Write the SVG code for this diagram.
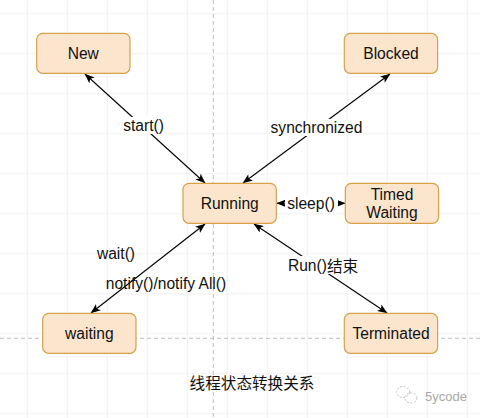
<svg xmlns="http://www.w3.org/2000/svg" width="480" height="418" viewBox="0 0 480 418">
  <defs>
    <pattern id="grid" x="26.7" y="13.3" width="40" height="40" patternUnits="userSpaceOnUse">
      <path d="M0,0 H40 M0,0 V40" fill="none" stroke="#e4e4e4" stroke-width="1"/>
    </pattern>
    <marker id="arr" viewBox="0 0 10 8" refX="9.5" refY="4" markerWidth="10" markerHeight="8" markerUnits="userSpaceOnUse" orient="auto-start-reverse">
      <path d="M0,0 L10,4 L0,8 L2.5,4 Z" fill="#000"/>
    </marker>
  </defs>
  <style>
    .node rect { fill: #fce5cd; stroke: #d6a14a; stroke-width: 1.2; }
    .node text, .lbl { font-family: "Liberation Sans", Arial, sans-serif; font-size: 15.6px; fill: #111; text-anchor: middle; dominant-baseline: central; }
    .edge { stroke: #000; stroke-width: 1.1; fill: none; marker-start: url(#arr); marker-end: url(#arr); }
    .bg { fill: #fff; }
    .guide { stroke: #bdbdbd; stroke-width: 1; stroke-dasharray: 4 3; }
  </style>
  <rect width="480" height="418" fill="#fff"/>
  <rect width="480" height="418" fill="url(#grid)"/>
  <line class="guide" x1="213.3" y1="0" x2="213.3" y2="418"/>
  <line class="guide" x1="0" y1="338.3" x2="480" y2="338.3"/>

  <g id="connectors">
    <line class="edge" x1="85" y1="74" x2="205" y2="183"/>
    <line class="edge" x1="390" y1="74" x2="243" y2="183"/>
    <line class="edge" x1="277" y1="203.3" x2="345" y2="203.3"/>
    <line class="edge" x1="91" y1="313" x2="205" y2="224"/>
    <line class="edge" x1="254" y1="224" x2="387" y2="313"/>
    <rect class="bg" x="122" y="117" width="43" height="17"/>
    <text class="lbl" x="143.5" y="125.5">start()</text>
    <rect class="bg" x="269" y="119" width="95" height="17"/>
    <text class="lbl" x="316.5" y="127.5">synchronized</text>
    <rect class="bg" x="285" y="195" width="53" height="17"/>
    <text class="lbl" x="311" y="203">sleep()</text>
    <text class="lbl" x="116" y="253">wait()</text>
    <text class="lbl" x="166" y="283">notify()/notify All()</text>
    <rect class="bg" x="287" y="256" width="72" height="18"/>
    <text class="lbl" x="323" y="265">Run()<tspan font-family="'Noto Sans CJK SC', sans-serif">结束</tspan></text>
  </g>

  <g id="node-new" class="node">
    <rect x="36.7" y="33.3" width="93.3" height="40" rx="6"/>
    <text x="83.3" y="53.3">New</text>
  </g>
  <g id="node-blocked" class="node">
    <rect x="344.3" y="33.3" width="93.3" height="40" rx="6"/>
    <text x="391" y="53.3">Blocked</text>
  </g>
  <g id="node-running" class="node">
    <rect x="183" y="183.3" width="93.3" height="40" rx="6"/>
    <text x="229.7" y="203.3">Running</text>
  </g>
  <g id="node-timed" class="node">
    <rect x="345.3" y="183.3" width="93.3" height="40" rx="6"/>
    <text x="392" y="194">Timed</text>
    <text x="392" y="212.5">Waiting</text>
  </g>
  <g id="node-waiting" class="node">
    <rect x="42.7" y="313.3" width="93.3" height="40" rx="6"/>
    <text x="89.3" y="333.3">waiting</text>
  </g>
  <g id="node-terminated" class="node">
    <rect x="344.3" y="313.3" width="93.3" height="40" rx="6"/>
    <text x="391" y="333.3">Terminated</text>
  </g>

  <text x="252" y="382" font-family="'Noto Sans CJK SC', sans-serif" font-size="15.6" fill="#111" text-anchor="middle" dominant-baseline="central">线程状态转换关系</text>

  <g id="watermark" fill="none" stroke="#c4c4c4" stroke-width="1" stroke-dasharray="2 1.5">
    <ellipse cx="403" cy="392" rx="6.5" ry="5.5"/>
    <ellipse cx="411" cy="398" rx="6" ry="5"/>
  </g>
  <text x="425" y="396" font-family="'Liberation Sans', Arial, sans-serif" font-size="13" fill="#a8a8a8" dominant-baseline="central">5ycode</text>
</svg>
